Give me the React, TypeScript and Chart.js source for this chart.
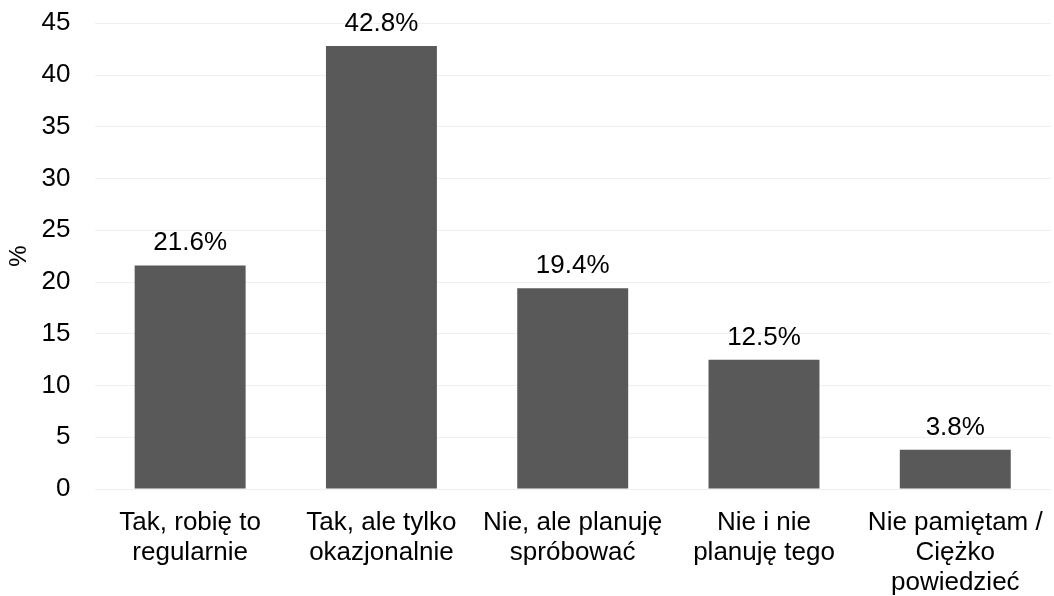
import React, { useEffect, useRef } from "react";
import { Chart, registerables } from "chart.js";

Chart.register(...registerables);

const categories: string[][] = [
  ["Tak, robię to", "regularnie"],
  ["Tak, ale tylko", "okazjonalnie"],
  ["Nie, ale planuję", "spróbować"],
  ["Nie i nie", "planuję tego"],
  ["Nie pamiętam /", "Ciężko", "powiedzieć"],
];
const values: number[] = [21.6, 42.8, 19.4, 12.5, 3.8];
const yTicks: number[] = [0, 5, 10, 15, 20, 25, 30, 35, 40, 45];

const FONT = "'Liberation Sans', Arial, sans-serif";

const labelPlugin = {
  id: "barLabels",
  afterDatasetsDraw(chart: any) {
    const ctx = chart.ctx;
    const meta = chart.getDatasetMeta(0);
    ctx.save();
    ctx.font = `26px ${FONT}`;
    ctx.fillStyle = "#000000";
    ctx.textAlign = "center";
    ctx.textBaseline = "alphabetic";
    meta.data.forEach((el: any, i: number) => {
      ctx.fillText(values[i].toFixed(1) + "%", el.x, el.y - 15);
    });
    ctx.restore();
  },
};

export default function App() {
  const ref = useRef<HTMLCanvasElement>(null);
  useEffect(() => {
    document.body.style.margin = "0";
    const chart = new Chart(ref.current!, {
      type: "bar",
      data: {
        labels: categories,
        datasets: [
          {
            data: values,
            backgroundColor: "#595959",
            categoryPercentage: 1,
            barPercentage: 0.58,
          },
        ],
      },
      options: {
        animation: false,
        responsive: false,
        maintainAspectRatio: false,
        layout: { padding: { top: 0, right: 3, left: 5, bottom: 0 } },
        plugins: {
          legend: { display: false },
          tooltip: { enabled: false },
        },
        scales: {
          x: {
            grid: { display: false },
            border: { display: false },
            afterFit: (axis: any) => {
              axis.height = 107;
            },
            ticks: {
              color: "#000000",
              font: { family: FONT, size: 26, lineHeight: 1.15 },
              padding: 11,
              maxRotation: 0,
              autoSkip: false,
            },
          },
          y: {
            min: 0,
            max: 45,
            afterFit: (axis: any) => {
              axis.width = 89.5;
              axis.paddingTop = 23.3;
            },
            afterBuildTicks: (axis: any) => {
              axis.ticks = yTicks.map((v) => ({ value: v }));
            },
            grid: { color: "#efefef", lineWidth: 1, drawTicks: false },
            border: { display: false },
            ticks: {
              color: "#000000",
              font: { family: FONT, size: 26 },
              padding: 24,
            },
            title: {
              display: true,
              text: "%",
              color: "#000000",
              font: { family: FONT, size: 24 },
              padding: { top: 0, bottom: 6 },
            },
          },
        },
      },
      plugins: [labelPlugin],
    });
    return () => chart.destroy();
  }, []);
  return (
    <div style={{ width: 1054, height: 596 }}>
      <canvas ref={ref} width={1054} height={596} style={{ display: "block" }} />
    </div>
  );
}
